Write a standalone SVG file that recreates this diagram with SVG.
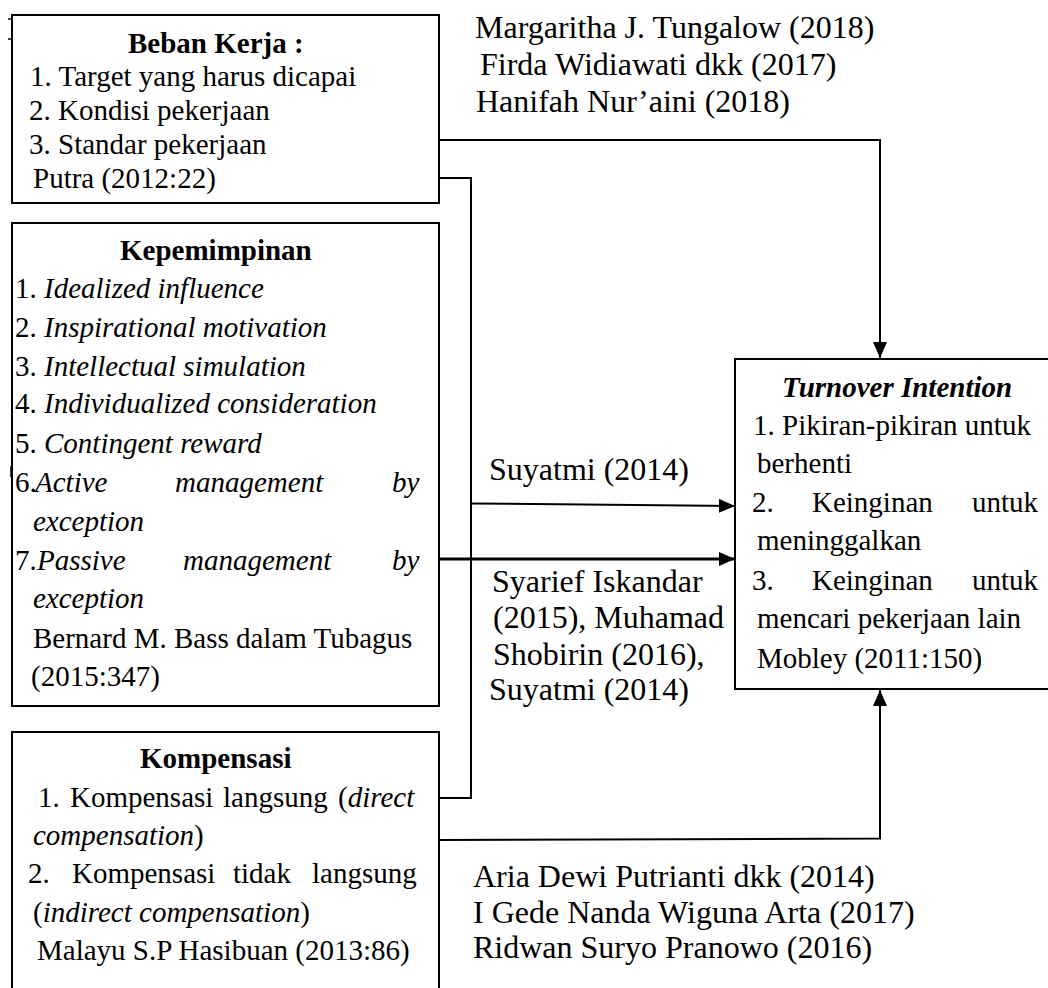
<svg xmlns="http://www.w3.org/2000/svg" width="1048" height="988" viewBox="0 0 1048 988">
<style>
  .box { fill: #ffffff; stroke: #000000; stroke-width: 2; }
  .t { font-family: "Liberation Serif", "Times New Roman", serif; font-size: 29px; fill: #000000; }
  .r { font-family: "Liberation Serif", "Times New Roman", serif; font-size: 32px; fill: #000000; }
  .b { font-weight: bold; }
  .i { font-style: italic; }
  .c { fill: none; stroke: #000000; stroke-width: 2; }
  .c2 { fill: none; stroke: #000000; stroke-width: 3; }
  .tick { stroke: #000000; stroke-width: 1.5; }
</style>
<defs>
  <marker id="arr" markerUnits="userSpaceOnUse" markerWidth="16" markerHeight="14" refX="16" refY="7" orient="auto">
    <path d="M0,0 L16,7 L0,14 Z" fill="#000000"/>
  </marker>
</defs>
<rect width="1048" height="988" fill="#ffffff"/>

<g id="ticks">
  <line class="tick" x1="8" y1="19" x2="12" y2="19"/>
  <line class="tick" x1="8" y1="39" x2="12" y2="39"/>
  <line class="tick" x1="11" y1="466" x2="11" y2="477"/>
</g>

<g id="connectors">
  <polyline class="c" points="439,140 880,140 880,358" marker-end="url(#arr)"/>
  <polyline class="c" points="439,178 471,178 471,798 439,798"/>
  <line class="c" x1="471" y1="503.5" x2="735" y2="506" marker-end="url(#arr)"/>
  <line class="c2" x1="439" y1="559" x2="735" y2="559" marker-end="url(#arr)"/>
  <polyline class="c" points="439,840 880,838.5 880,690" marker-end="url(#arr)"/>
</g>

<g id="node-beban-kerja">
  <rect class="box" x="12" y="15" width="427" height="188"/>
  <text class="t b" x="128" y="53">Beban Kerja :</text>
  <text class="t" x="30" y="86">1. Target yang harus dicapai</text>
  <text class="t" x="29" y="120">2. Kondisi pekerjaan</text>
  <text class="t" x="29" y="154">3. Standar pekerjaan</text>
  <text class="t" x="33" y="188">Putra (2012:22)</text>
</g>

<g id="node-kepemimpinan">
  <rect class="box" x="12" y="223" width="427" height="483"/>
  <text class="t b" x="120" y="260">Kepemimpinan</text>
  <text class="t" x="15" y="298">1. <tspan class="i">Idealized influence</tspan></text>
  <text class="t" x="15" y="337">2. <tspan class="i">Inspirational motivation</tspan></text>
  <text class="t" x="15" y="376">3. <tspan class="i">Intellectual simulation</tspan></text>
  <text class="t" x="15" y="413">4. <tspan class="i">Individualized consideration</tspan></text>
  <text class="t" x="15" y="453">5. <tspan class="i">Contingent reward</tspan></text>
  <text class="t" x="15" y="492">6.<tspan class="i" x="35">Active</tspan><tspan class="i" x="175">management</tspan><tspan class="i" x="392">by</tspan></text>
  <text class="t i" x="33" y="531">exception</text>
  <text class="t" x="15" y="570">7.<tspan class="i" x="37">Passive</tspan><tspan class="i" x="183">management</tspan><tspan class="i" x="392">by</tspan></text>
  <text class="t i" x="33" y="608">exception</text>
  <text class="t" x="33" y="648">Bernard M. Bass dalam Tubagus</text>
  <text class="t" x="31" y="686">(2015:347)</text>
</g>

<g id="node-kompensasi">
  <rect class="box" x="12" y="732" width="427" height="280"/>
  <text class="t b" x="140" y="768">Kompensasi</text>
  <text class="t" x="38" y="807">1.<tspan x="70">Kompensasi</tspan><tspan x="223">langsung</tspan><tspan x="338">(<tspan class="i">direct</tspan></tspan></text>
  <text class="t" x="33" y="845"><tspan class="i">compensation</tspan>)</text>
  <text class="t" x="28" y="883">2.<tspan x="72">Kompensasi</tspan><tspan x="233">tidak</tspan><tspan x="312">langsung</tspan></text>
  <text class="t" x="33" y="922">(<tspan class="i">indirect compensation</tspan>)</text>
  <text class="t" x="37" y="960">Malayu S.P Hasibuan (2013:86)</text>
</g>

<g id="node-turnover">
  <rect class="box" x="735" y="359" width="330" height="330"/>
  <text class="t b i" x="782" y="397">Turnover Intention</text>
  <text class="t" x="753" y="435">1. Pikiran-pikiran untuk</text>
  <text class="t" x="757" y="473">berhenti</text>
  <text class="t" x="752" y="512">2.<tspan x="812">Keinginan</tspan><tspan x="972">untuk</tspan></text>
  <text class="t" x="757" y="550">meninggalkan</text>
  <text class="t" x="752" y="590">3.<tspan x="812">Keinginan</tspan><tspan x="972">untuk</tspan></text>
  <text class="t" x="757" y="628">mencari pekerjaan lain</text>
  <text class="t" x="757" y="668">Mobley (2011:150)</text>
</g>

<g id="labels">
  <text class="r" x="475" y="38">Margaritha J. Tungalow (2018)</text>
  <text class="r" x="480" y="75">Firda Widiawati dkk (2017)</text>
  <text class="r" x="476" y="112">Hanifah Nur’aini (2018)</text>
  <text class="r" x="489" y="480">Suyatmi (2014)</text>
  <text class="r" x="492" y="592">Syarief Iskandar</text>
  <text class="r" x="493" y="628">(2015), Muhamad</text>
  <text class="r" x="493" y="665">Shobirin (2016),</text>
  <text class="r" x="489" y="700">Suyatmi (2014)</text>
  <text class="r" x="473" y="887">Aria Dewi Putrianti dkk (2014)</text>
  <text class="r" x="473" y="923">I Gede Nanda Wiguna Arta (2017)</text>
  <text class="r" x="473" y="958">Ridwan Suryo Pranowo (2016)</text>
</g>
</svg>
